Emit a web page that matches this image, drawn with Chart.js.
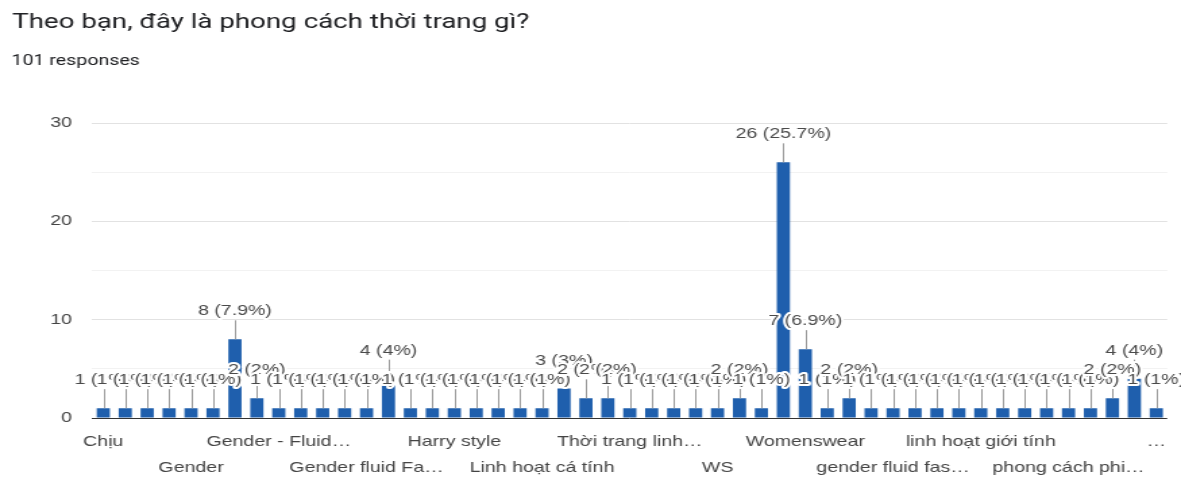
<!DOCTYPE html>
<html>
<head>
<meta charset="utf-8">
<script src="https://cdn.jsdelivr.net/npm/chart.js@4.4.1/dist/chart.umd.min.js"></script>
<style>
  html, body { margin: 0; padding: 0; background: #ffffff; overflow: hidden; }
  #wrap { width: 875px; height: 480px; transform: scaleX(1.34971); transform-origin: 0 0; }
</style>
</head>
<body>
<div id="wrap"><canvas id="chart" width="875" height="480"></canvas></div>
<script>
const titleText = "Theo bạn, đây là phong cách thời trang gì?";
const subtitleText = "101 responses";

// 49 answer categories (alphabetical, as in the form summary); only every 4th label is legible
const categories = [
  "Chịu", "", "", "", "Gender", "", "", "",
  "Gender - Fluid…", "", "", "", "Gender fluid Fa…", "", "", "",
  "Harry style", "", "", "", "Linh hoạt cá tính", "", "", "",
  "Thời trang linh…", "", "", "", "WS", "", "", "",
  "Womenswear", "", "", "", "gender fluid fas…", "", "", "",
  "linh hoạt giới tính", "", "", "", "phong cách phi…", "", "", "",
  "…"
];

const counts = [
  1, 1, 1, 1, 1, 1, 8, 2,
  1, 1, 1, 1, 1, 4, 1, 1,
  1, 1, 1, 1, 1, 3, 2, 2,
  1, 1, 1, 1, 1, 2, 1, 26,
  7, 1, 2, 1, 1, 1, 1, 1,
  1, 1, 1, 1, 1, 1, 2, 4,
  1
];

const yTickLabels = [0, 10, 20, 30];

const total = counts.reduce((a, b) => a + b, 0);

const header = {
  id: 'header',
  beforeDraw(chart) {
    const ctx = chart.ctx;
    ctx.save();
    ctx.fillStyle = '#ffffff';
    ctx.fillRect(0, 0, chart.width, chart.height);
    ctx.fillStyle = '#202124';
    ctx.textBaseline = 'alphabetic';
    ctx.textAlign = 'left';
    ctx.font = '20.5px Roboto, "Liberation Sans", sans-serif';
    ctx.fillText(titleText, 9, 28);
    ctx.font = '14.5px Roboto, "Liberation Sans", sans-serif';
    ctx.fillText(subtitleText, 8.5, 64.5);
    ctx.restore();
  }
};

const valueLabels = {
  id: 'valueLabels',
  afterDatasetsDraw(chart) {
    const ctx = chart.ctx;
    const meta = chart.getDatasetMeta(0);
    ctx.save();
    ctx.strokeStyle = '#9a9a9a';
    ctx.lineWidth = 1;
    meta.data.forEach(bar => {
      const x = Math.round(bar.x) + 0.5;
      ctx.beginPath();
      ctx.moveTo(x, bar.y - 19);
      ctx.lineTo(x, bar.y);
      ctx.stroke();
    });
    ctx.font = '14.5px "Liberation Sans", Arial, sans-serif';
    ctx.textAlign = 'center';
    ctx.textBaseline = 'middle';
    ctx.lineJoin = 'round';
    meta.data.forEach((bar, i) => {
      const v = counts[i];
      const pct = Math.round(v / total * 1000) / 10;
      const t = v + ' (' + pct + '%)';
      ctx.strokeStyle = '#ffffff';
      ctx.lineWidth = 4;
      ctx.strokeText(t, bar.x, bar.y - 28);
      ctx.fillStyle = '#4a4a4a';
      ctx.fillText(t, bar.x, bar.y - 28);
    });
    ctx.restore();
  }
};

new Chart(document.getElementById('chart'), {
  type: 'bar',
  data: {
    labels: categories,
    datasets: [{
      data: counts,
      backgroundColor: '#1f5fad',
      borderWidth: 0,
      barPercentage: 0.6,
      categoryPercentage: 1.0
    }]
  },
  options: {
    responsive: false,
    animation: false,
    devicePixelRatio: 1,
    layout: { padding: { top: 123, right: 5.4, bottom: 0, left: 0 } },
    plugins: {
      legend: { display: false },
      tooltip: { enabled: false },
      title: { display: false }
    },
    scales: {
      x: {
        afterFit(scale) { scale.height = 62; },
        grid: { display: false, drawTicks: false },
        border: { display: false },
        ticks: {
          autoSkip: false,
          maxRotation: 0,
          minRotation: 0,
          padding: 11,
          color: '#444444',
          font: { family: '"Liberation Sans", Arial, sans-serif', size: 14.5, lineHeight: 1.8 },
          callback(value, index) {
            const l = categories[index];
            if (index % 8 === 0) return l;
            if (index % 8 === 4) return ['', l];
            return '';
          }
        }
      },
      y: {
        min: 0,
        max: 30,
        afterFit(scale) { scale.width = 68.4; },
        border: { display: false },
        grid: {
          drawTicks: false,
          color(ctx) {
            const v = ctx.tick ? ctx.tick.value : 0;
            if (v === 0) return '#333333';
            if (yTickLabels.includes(v)) return '#e2e2e2';
            return '#f2f2f2';
          }
        },
        ticks: {
          stepSize: 5,
          padding: 15,
          color: '#444444',
          font: { family: '"Liberation Sans", Arial, sans-serif', size: 14.5 },
          callback(value) { return yTickLabels.includes(value) ? String(value) : ''; }
        }
      }
    }
  },
  plugins: [header, valueLabels]
});
</script>
</body>
</html>
